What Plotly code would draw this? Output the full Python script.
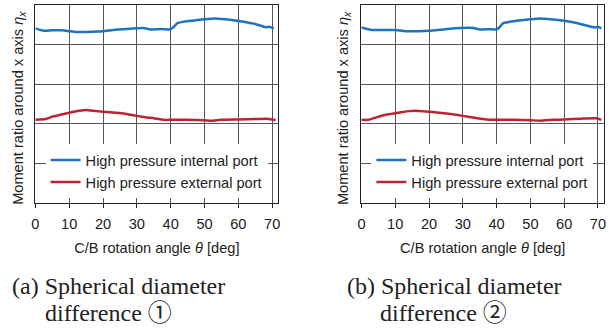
import plotly.graph_objects as go

# ---- data (values on an arbitrary 0-5 scale; axis carries no numeric labels) ----
theta_a_int = [0, 2.4, 5, 8, 10, 12, 15, 18, 20, 23, 26, 28, 30, 32, 34, 36, 38, 39.5, 40.5, 42, 44, 47, 50, 53, 56, 59, 62, 65, 68, 69, 70.5]
eta_a_int = [4.41, 4.35, 4.36, 4.36, 4.34, 4.32, 4.32, 4.33, 4.34, 4.37, 4.39, 4.40, 4.41, 4.42, 4.38, 4.39, 4.39, 4.38, 4.42, 4.54, 4.58, 4.61, 4.64, 4.66, 4.64, 4.61, 4.57, 4.52, 4.44, 4.45, 4.41]
theta_a_ext = [0, 3, 5, 7, 10, 13, 15, 18, 22, 25, 28, 30, 33, 35, 38, 40, 45, 50, 52, 55, 60, 65, 68, 70, 71]
eta_a_ext = [2.10, 2.12, 2.18, 2.22, 2.28, 2.33, 2.35, 2.32, 2.29, 2.27, 2.23, 2.20, 2.16, 2.14, 2.10, 2.10, 2.10, 2.09, 2.08, 2.10, 2.11, 2.12, 2.13, 2.11, 2.09]

theta_b_int = [0, 3, 6, 10, 13, 17, 20, 25, 28, 33, 35, 38, 39.5, 40.5, 42, 46, 50, 53, 56, 60, 64, 68, 69.3, 70, 71]
eta_b_int = [4.43, 4.37, 4.37, 4.37, 4.34, 4.34, 4.35, 4.39, 4.41, 4.42, 4.38, 4.39, 4.38, 4.41, 4.54, 4.60, 4.64, 4.66, 4.64, 4.60, 4.54, 4.45, 4.43, 4.45, 4.41]
theta_b_ext = [0, 2, 5, 8, 11, 14, 16, 19, 23, 27, 30, 33, 37, 40, 45, 50, 53, 57, 60, 65, 69.5, 71]
eta_b_ext = [2.10, 2.10, 2.18, 2.24, 2.28, 2.32, 2.33, 2.31, 2.28, 2.24, 2.20, 2.16, 2.11, 2.10, 2.10, 2.09, 2.08, 2.10, 2.11, 2.13, 2.14, 2.10]

series_names = ["High pressure internal port", "High pressure external port"]
x_ticks = [0, 10, 20, 30, 40, 50, 60, 70]
x_title = "C/B rotation angle <i>θ</i> [deg]"
y_title = "Moment ratio around x axis <i>η<sub>x</sub></i>"
captions = [("(a) Spherical diameter", "difference ①"), ("(b) Spherical diameter", "difference ②")]

W, H = 609, 329
BLUE = "rgb(30,115,190)"
RED = "rgb(190,35,50)"
GRID = "#555555"
AX = "#222222"
SANS = "Liberation Sans, Arial, sans-serif"
SERIF = "Liberation Serif, Times New Roman, Noto Sans CJK JP, serif"
FS = 14.6

fig = go.Figure()
panels = [
    ("x", "y", "legend", theta_a_int, eta_a_int, theta_a_ext, eta_a_ext),
    ("x2", "y2", "legend2", theta_b_int, eta_b_int, theta_b_ext, eta_b_ext),
]
for xa, ya, lg, ti, ei, te, ee in panels:
    fig.add_trace(go.Scatter(x=ti, y=ei, mode="lines", name=series_names[0], xaxis=xa, yaxis=ya,
                             legend=lg, line=dict(color=BLUE, width=2.5, shape="spline", smoothing=0.5)))
    fig.add_trace(go.Scatter(x=te, y=ee, mode="lines", name=series_names[1], xaxis=xa, yaxis=ya,
                             legend=lg, line=dict(color=RED, width=2.5, shape="spline", smoothing=0.5)))

def px_x(p):
    return p / W

def px_y(p):
    return 1 - p / H

xdomains = [[px_x(31.7), px_x(277)], [px_x(361), px_x(606)]]
ydom = [px_y(203), px_y(5)]

common_x = dict(range=[0, 71.8], tickvals=x_ticks, showgrid=True, gridcolor=GRID, gridwidth=1,
                showline=True, linecolor=AX, linewidth=1, mirror=True, ticks="outside", ticklen=4,
                tickcolor=AX, tickfont=dict(family=SANS, size=FS, color="#222"), zeroline=False,
                ticklabelstandoff=3,
                title=dict(text=x_title, font=dict(family=SANS, size=FS, color="#222"), standoff=12))
common_y = dict(range=[0, 5], tickvals=[0, 1, 2, 3, 4, 5], showticklabels=False, showgrid=True,
                gridcolor=GRID, gridwidth=1, showline=True, linecolor=AX, linewidth=1, mirror=True,
                ticks="", zeroline=False)

fig.update_layout(
    width=W, height=H, margin=dict(l=0, r=0, t=0, b=0),
    paper_bgcolor="white", plot_bgcolor="white",
    xaxis=dict(domain=xdomains[0], anchor="y", **common_x),
    xaxis2=dict(domain=xdomains[1], anchor="y2", **common_x),
    yaxis=dict(domain=ydom, anchor="x", **common_y),
    yaxis2=dict(domain=ydom, anchor="x2", **common_y),
    legend=dict(x=px_x(42), y=px_y(144), xanchor="left", yanchor="top", bgcolor="white",
                borderwidth=0, font=dict(family=SANS, size=FS, color="#222"), tracegroupgap=0),
    legend2=dict(x=px_x(371), y=px_y(144), xanchor="left", yanchor="top", bgcolor="white",
                 borderwidth=0, font=dict(family=SANS, size=FS, color="#222"), tracegroupgap=0),
    showlegend=True,
)

# y-axis titles as annotations (rotated)
for cx in [15, 343.5]:
    fig.add_annotation(text=y_title, x=px_x(cx), y=px_y(108), xref="paper", yref="paper",
                       textangle=-90, showarrow=False, xanchor="center", yanchor="middle",
                       font=dict(family=SANS, size=FS, color="#222"))

# captions
for (l1, l2), x1, x2 in zip(captions, [6, 344], [39, 378]):
    fig.add_annotation(text=l1, x=px_x(x1), y=px_y(286), xref="paper", yref="paper", showarrow=False,
                       xanchor="left", yanchor="middle", font=dict(family=SERIF, size=24, color="#222"))
    fig.add_annotation(text=l2, x=px_x(x2), y=px_y(313), xref="paper", yref="paper", showarrow=False,
                       xanchor="left", yanchor="middle", font=dict(family=SERIF, size=24, color="#222"))

fig.write_html("out.html", config={"displayModeBar": False},
               post_script="document.body.style.margin='0';document.body.style.padding='0';")
